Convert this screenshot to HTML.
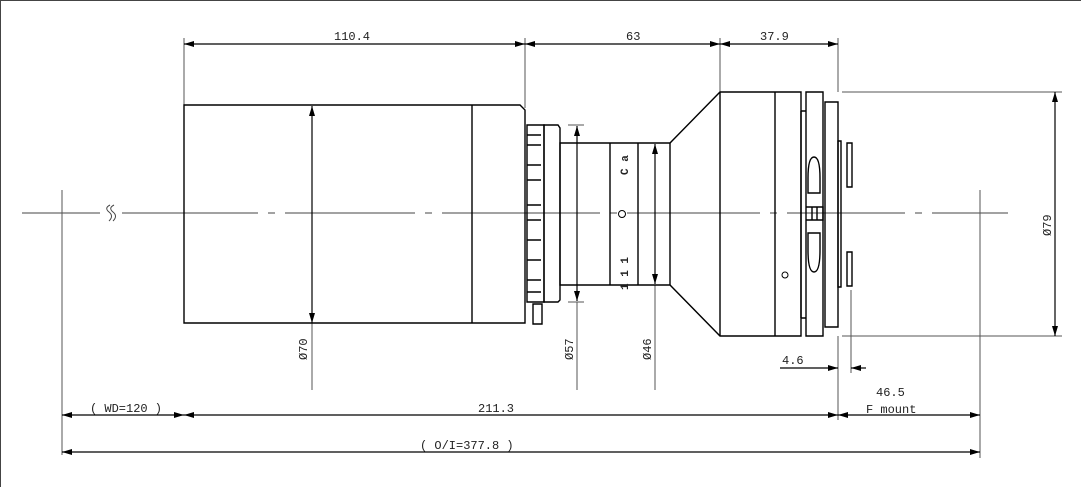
<!DOCTYPE html>
<html><head><style>html,body{margin:0;padding:0;background:#fff}svg{display:block}text{font-family:"Liberation Mono",monospace;font-size:12px;fill:#222}</style></head><body>
<svg width="1081" height="487" viewBox="0 0 1081 487" xmlns="http://www.w3.org/2000/svg">
<defs><marker id="a" viewBox="0 0 10 6" refX="10" refY="3" markerWidth="14" markerHeight="6" markerUnits="userSpaceOnUse" orient="auto-start-reverse"><path d="M0,0L10,3L0,6z" fill="#000"/></marker></defs>
<rect x="0.5" y="0.5" width="1090" height="500" fill="none" stroke="#444"/>
<g stroke="#555" stroke-width="1" fill="none">
<path d="M22 213H100M122 213H258M268 213H275M285 213H415M425 213H432M442 213H600M610 213H617M627 213H760M770 213H777M787 213H905M915 213H922M932 213H1008" stroke="#444"/>
<path d="M62 190V455M184 38V105M525 38V108M720 38V92M838 38V92M838 336V420M851 290V373M980 190V458M312 323V390M577 302V390M655 285V390M842 92H1062M842 336H1062M568 125H584M568 302H584"/>
</g>
<g stroke="#000" stroke-width="1.4" fill="none">
<path d="M184 105H520L525 110V323H184Z"/><path d="M472 105V323"/>
<path d="M527 125H544V302H527Z"/>
<path d="M527 135H541M527 145H541M527 165H541M527 180H541M527 205H541M527 220H541M527 240H541M527 260H541M527 280H541M527 292H541"/>
<path d="M544 125H558L560 128V300L558 302H544Z"/>
<path d="M533 304H542V324H533Z"/>
<path d="M560 143H670L720 92H801V336H720L670 285H560Z"/><path d="M610 143V285M638 143V285M670 143V285M720 92V336M775 92V336"/>
<path d="M801 111H806M801 318H806M801 111V318"/>
<path d="M806 92H823V336H806Z"/>
<path d="M825 102H838V327H825Z"/>
<path d="M838 141H841V287H838Z"/>
<path d="M847 143H852V187H847ZM847 252H852V286H847Z"/>
<path d="M808 178V193H820V178Q820 157 814 157Q808 157 808 178ZM808 250V233H820V250Q820 272 814 272Q808 272 808 250ZM806 207H823V220H806M812 207V220M817 207V220"/>
<circle cx="622" cy="214" r="3.5" stroke-width="1"/><circle cx="785" cy="275" r="3" stroke-width="1"/>
</g>
<path d="M110 205q-6 3 -1 7t0 9M114 205q-6 3 -1 7t0 9" stroke="#444" fill="none"/>
<g stroke="#000" stroke-width="1.2" fill="none" marker-start="url(#a)" marker-end="url(#a)">
<path d="M184 44H525"/><path d="M525 44H720"/><path d="M720 44H838"/>
<path d="M312 106V323"/><path d="M577 126V301"/><path d="M655 144V284"/><path d="M1055 92V336"/>
<path d="M62 415H184"/><path d="M184 415H838"/><path d="M838 415H980"/><path d="M62 452H980"/>
</g>
<g stroke="#000" stroke-width="1.2" marker-end="url(#a)"><path d="M780 368H838"/><path d="M866 368H851"/></g>
<text x="334" y="40">110.4</text><text x="626" y="40">63</text><text x="760" y="40">37.9</text>
<text x="90" y="412">( WD=120 )</text><text x="478" y="412">211.3</text>
<text x="876" y="396">46.5</text><text x="866" y="413">F mount</text>
<text x="420" y="449">( O/I=377.8 )</text><text x="782" y="364">4.6</text>
<text transform="translate(307,360) rotate(-90)">Ø70</text>
<text transform="translate(573,360) rotate(-90)">Ø57</text>
<text transform="translate(651,360) rotate(-90)">Ø46</text>
<text transform="translate(1051,236) rotate(-90)">Ø79</text>
<text transform="translate(628,175) rotate(-90)" style="font-weight:bold;font-size:11px">C a</text>
<text transform="translate(628,290) rotate(-90)" style="font-weight:bold;font-size:11px">1 1 1</text>
</svg>
</body></html>
